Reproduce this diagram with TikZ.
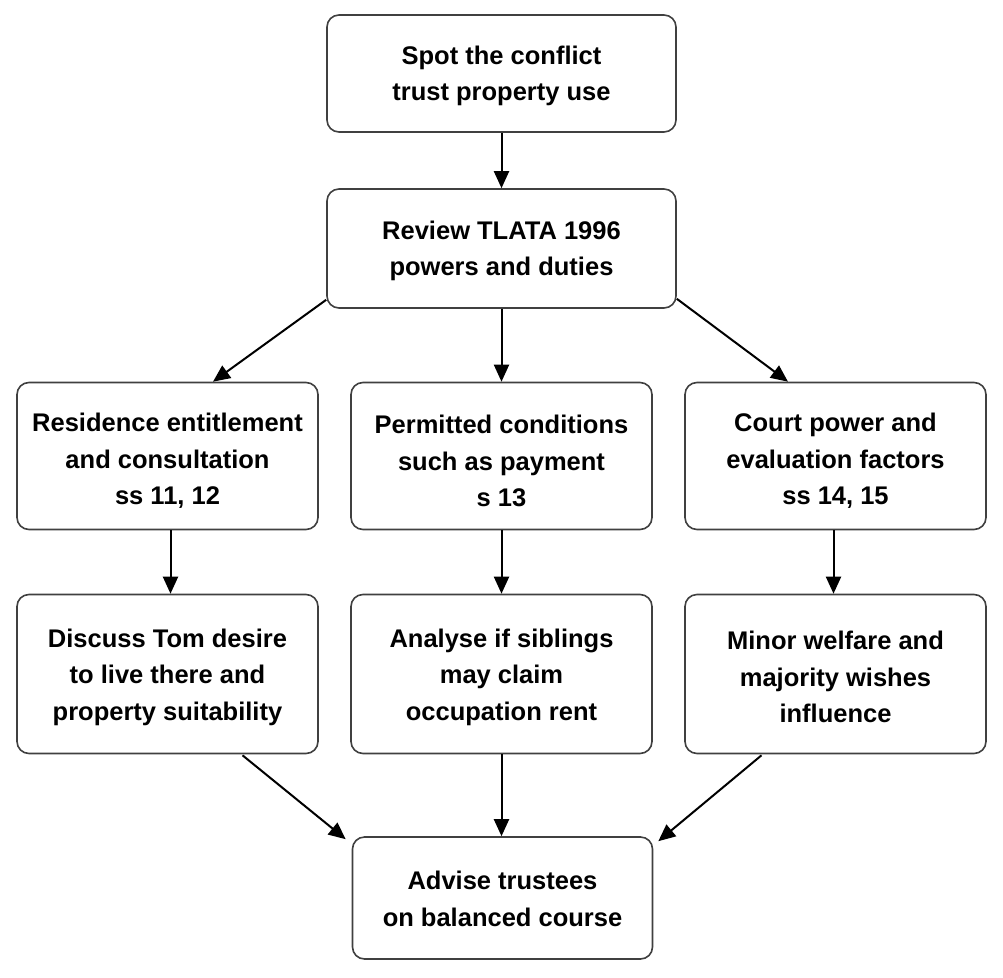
\documentclass[tikz,border=0pt]{standalone}
\usepackage{fontspec}
\setmainfont{Liberation Sans}
\usetikzlibrary{arrows.meta,calc}
\begin{document}
\begin{tikzpicture}[x=1pt,y=-1pt,
  box/.style={draw=black!75, line width=1.6pt, rounded corners=12pt, fill=white, inner sep=0pt},
  txt/.style={align=center, inner sep=0pt, font=\fontsize{25.5}{36.5}\selectfont\bfseries},
  arr/.style={line width=2pt, draw=black, -{Triangle[length=17pt,width=15pt]}}]
\useasboundingbox[fill=white] (0,0) rectangle (1003,977);
\node[box, minimum width=349pt, minimum height=117pt] (spot) at (501.5,73.5) {};
\node[box, minimum width=349pt, minimum height=119pt] (review) at (501.5,248.5) {};
\node[box, minimum width=301pt, minimum height=147pt] (res) at (167.5,456) {};
\node[box, minimum width=301pt, minimum height=147pt] (perm) at (501.5,456) {};
\node[box, minimum width=301pt, minimum height=147pt] (court) at (835.5,456) {};
\node[box, minimum width=301pt, minimum height=159pt] (tom) at (167.5,674) {};
\node[box, minimum width=301pt, minimum height=159pt] (sib) at (501.5,674) {};
\node[box, minimum width=301pt, minimum height=159pt] (minor) at (835.5,674) {};
\node[box, minimum width=300pt, minimum height=122pt] (adv) at (502.5,898) {};
\node[txt] (spot-t) at ($(spot)+(0,2.5)$) {Spot the conflict\\trust property use};
\node[txt] (review-t) at ($(review)+(0,2.5)$) {Review TLATA 1996\\powers and duties};
\node[txt] (res-t) at ($(res)+(0,5)$) {Residence entitlement\\and consultation\\ss 11, 12};
\node[txt] (perm-t) at ($(perm)+(0,5)$) {Permitted conditions\\such as payment\\s 13};
\node[txt] (court-t) at ($(court)+(0,5)$) {Court power and\\evaluation factors\\ss 14, 15};
\node[txt] (tom-t) at ($(tom)+(0,3)$) {Discuss Tom desire\\to live there and\\property suitability};
\node[txt] (sib-t) at ($(sib)+(0,3)$) {Analyse if siblings\\may claim\\occupation rent};
\node[txt] (minor-t) at ($(minor)+(0,3)$) {Minor welfare and\\majority wishes\\influence};
\node[txt] (adv-t) at ($(adv)+(0,1)$) {Advise trustees\\on balanced course};
\draw[arr] (spot.south) -- (review.north);
\draw[arr] ($(review.south west)+(0,-9)$) -- ($(res.north)+(45.5,0)$);
\draw[arr] (review.south) -- (perm.north);
\draw[arr] ($(review.south east)+(0,-10)$) -- ($(court.north)+(-47.5,0)$);
\draw[arr] ($(res.south)+(3,0)$) -- ($(tom.north)+(3,0)$);
\draw[arr] (perm.south) -- (sib.north);
\draw[arr] ($(court.south)+(-2,0)$) -- ($(minor.north)+(-2,0)$);
\draw[arr] ($(tom.south)+(75,1)$) -- ($(adv.north west)+(-6,3)$);
\draw[arr] (sib.south) -- (sib.south |- adv.north);
\draw[arr] ($(minor.south)+(-74,1)$) -- ($(adv.north east)+(5,5)$);
\end{tikzpicture}
\end{document}
